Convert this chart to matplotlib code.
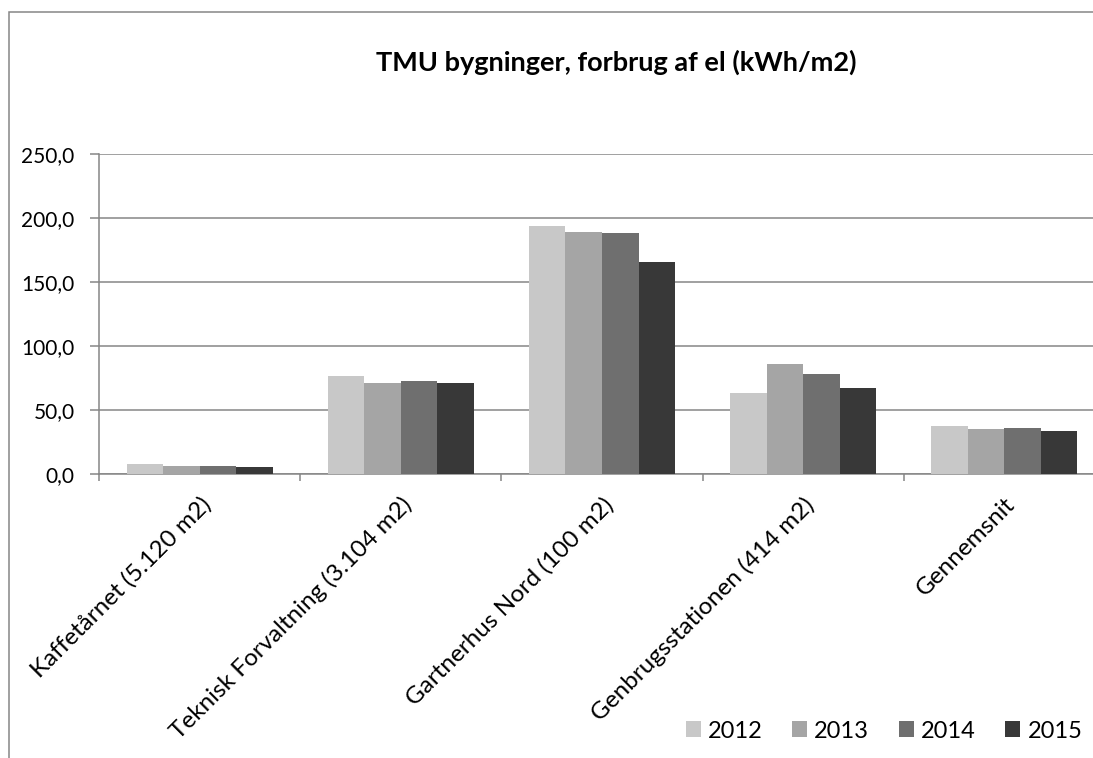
import matplotlib
matplotlib.use("Agg")
import matplotlib.pyplot as plt
from matplotlib.patches import Rectangle
from matplotlib.transforms import ScaledTranslation
import numpy as np

plt.rcParams['font.family'] = ['Lato', 'DejaVu Sans']

# electricity use per building, kWh/m2
buildings = ['Kaffetårnet (5.120 m2)', 'Teknisk Forvaltning (3.104 m2)',
             'Gartnerhus Nord (100 m2)', 'Genbrugsstationen (414 m2)', 'Gennemsnit']
years = ['2012', '2013', '2014', '2015']
use_2012 = [7.5, 76.3, 193.6, 63.6, 37.3]
use_2013 = [6.5, 71.1, 189.2, 86.0, 35.5]
use_2014 = [6.5, 72.7, 187.9, 77.9, 36.0]
use_2015 = [5.2, 70.8, 165.6, 67.2, 33.9]
yticks = [0, 50, 100, 150, 200, 250]

series = [use_2012, use_2013, use_2014, use_2015]
colors = ['#c8c8c8', '#a5a5a5', '#6f6f6f', '#383838']
grid_col = '#868686'

fig = plt.figure(figsize=(10.93, 7.58), dpi=100)
ax = fig.add_axes([99 / 1093, 1 - 474 / 758, 1006 / 1093, 320 / 758])

x = np.arange(len(buildings))
w = 0.1815
for i, (vals, c) in enumerate(zip(series, colors)):
    ax.bar(x + (i - 1.5) * w, vals, width=w, color=c, label=years[i], zorder=3)

ax.set_xlim(-0.5, len(buildings) - 0.5)
ax.set_ylim(0, 250)
ax.set_yticks(yticks)
ax.set_yticklabels([f'{v:.1f}'.replace('.', ',') for v in yticks], fontsize=15)
ax.yaxis.grid(True, color=grid_col, lw=1.1, zorder=0)

# category boundaries carry the x tick marks, labels sit at the centres
ax.set_xticks(np.arange(-0.5, len(buildings), 1.0))
ax.set_xticklabels([])
ax.set_xticks(x, minor=True)
ax.set_xticklabels(buildings, minor=True, rotation=45, ha='right', va='top',
                   rotation_mode='anchor', fontsize=17.5)
shift = ScaledTranslation(-17 / 100, -8 / 100, fig.dpi_scale_trans)
for lab in ax.get_xticklabels(minor=True):
    lab.set_transform(lab.get_transform() + shift)
ax.tick_params(axis='x', which='minor', length=0, pad=14)
ax.tick_params(axis='x', which='major', length=5, color=grid_col, width=1.1)
ax.tick_params(axis='y', length=6.5, color=grid_col, width=1.1, pad=11)

for s in ['top', 'right']:
    ax.spines[s].set_visible(False)
for s in ['left', 'bottom']:
    ax.spines[s].set_color(grid_col)
    ax.spines[s].set_linewidth(1.1)

fig.text(616 / 1093, 1 - 62 / 758, 'TMU bygninger, forbrug af el (kWh/m2)',
         ha='center', va='center', fontsize=19.5, fontweight='bold')

fig.legend(loc='center', bbox_to_anchor=(884 / 1093, 1 - 731 / 758), ncol=4,
           frameon=False, fontsize=17, handlelength=0.64, handleheight=0.64,
           handletextpad=0.3, columnspacing=1.25, borderaxespad=0)

# chart area border
fig.patches.append(Rectangle((9 / 1093, -0.1), 1.1, 1 - 12 / 758 + 0.1,
                             transform=fig.transFigure, fill=False,
                             edgecolor=grid_col, lw=1.1))

fig.savefig('out.png', dpi=100)
